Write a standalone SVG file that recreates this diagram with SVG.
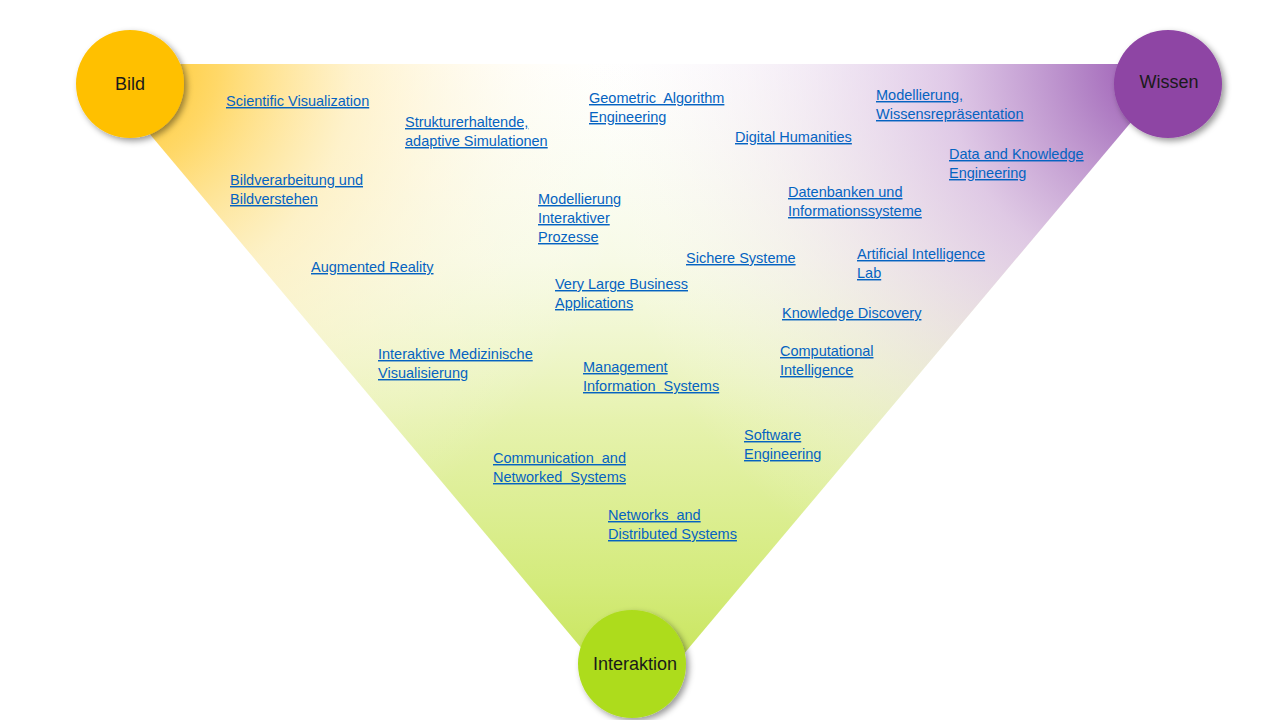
<svg xmlns="http://www.w3.org/2000/svg" width="1280" height="720" viewBox="0 0 1280 720">
  <defs>
    <linearGradient id="gGreen" gradientUnits="userSpaceOnUse" x1="0" y1="64" x2="0" y2="712">
      <stop offset="0" stop-color="#F4F8DC" stop-opacity="0"/>
      <stop offset="0.3" stop-color="#F2F7D6" stop-opacity="0.6"/>
      <stop offset="0.55" stop-color="#E6F2AE" stop-opacity="1"/>
      <stop offset="0.8" stop-color="#D4EB7C" stop-opacity="1"/>
      <stop offset="1" stop-color="#C2E24A" stop-opacity="1"/>
    </linearGradient>
    <radialGradient id="gOrange" gradientUnits="userSpaceOnUse" cx="110" cy="64" r="540">
      <stop offset="0" stop-color="#FFC21A" stop-opacity="1"/>
      <stop offset="0.2" stop-color="#FFD660" stop-opacity="0.95"/>
      <stop offset="0.45" stop-color="#FFEDB8" stop-opacity="0.7"/>
      <stop offset="0.75" stop-color="#FFF6DC" stop-opacity="0.25"/>
      <stop offset="1" stop-color="#FFFFFF" stop-opacity="0"/>
    </radialGradient>
    <radialGradient id="gPurple" gradientUnits="userSpaceOnUse" cx="1175" cy="64" r="600">
      <stop offset="0" stop-color="#944AAE" stop-opacity="1"/>
      <stop offset="0.16" stop-color="#B07FC4" stop-opacity="0.95"/>
      <stop offset="0.38" stop-color="#D8BCE2" stop-opacity="0.8"/>
      <stop offset="0.7" stop-color="#EEE2F0" stop-opacity="0.4"/>
      <stop offset="1" stop-color="#FFFFFF" stop-opacity="0"/>
    </radialGradient>
    <filter id="shadow" x="-30%" y="-30%" width="170%" height="170%">
      <feDropShadow dx="3" dy="3" stdDeviation="3" flood-color="#000" flood-opacity="0.4"/>
    </filter>
    <clipPath id="triClip">
      <polygon points="91,64 1180,64 635,712"/>
    </clipPath>
  </defs>
  <style>
    .lnk { font-family: "Liberation Sans", Arial, sans-serif; font-size: 14.5px; fill: #0563C1; text-decoration: underline; white-space: pre; }
    .lbl { font-family: "Liberation Sans", Arial, sans-serif; font-size: 18px; fill: #1A1A1A; text-anchor: middle; }
  </style>

  <g id="triangle">
    <polygon points="91,64 1180,64 635,712" fill="#FFFFFF"/>
    <g clip-path="url(#triClip)">
      <rect x="0" y="0" width="1280" height="720" fill="url(#gGreen)"/>
      <rect x="0" y="0" width="1280" height="720" fill="url(#gOrange)"/>
      <rect x="0" y="0" width="1280" height="720" fill="url(#gPurple)"/>
    </g>
  </g>

  <g id="connectors"></g>

  <g id="node-bild">
    <circle cx="130" cy="84" r="54" fill="#FFC000" filter="url(#shadow)"/>
    <text class="lbl" x="130" y="90">Bild</text>
  </g>
  <g id="node-wissen">
    <circle cx="1168" cy="84" r="54" fill="#8E44A4" filter="url(#shadow)"/>
    <text class="lbl" x="1169" y="88">Wissen</text>
  </g>
  <g id="node-interaktion">
    <circle cx="632" cy="664" r="54" fill="#ADDC1C" filter="url(#shadow)"/>
    <text class="lbl" x="635" y="670">Interaktion</text>
  </g>

  <g id="topics">
    <g id="t-scivis"><text class="lnk" x="226" y="106">Scientific Visualization</text></g>
    <g id="t-struktur"><text class="lnk" x="405" y="127">Strukturerhaltende,</text><text class="lnk" x="405" y="146">adaptive Simulationen</text></g>
    <g id="t-geo"><text class="lnk" x="589" y="103">Geometric  Algorithm</text><text class="lnk" x="589" y="122">Engineering</text></g>
    <g id="t-dh"><text class="lnk" x="735" y="142">Digital Humanities</text></g>
    <g id="t-modwiss"><text class="lnk" x="876" y="100">Modellierung,</text><text class="lnk" x="876" y="119">Wissensrepräsentation</text></g>
    <g id="t-dke"><text class="lnk" x="949" y="159">Data and Knowledge</text><text class="lnk" x="949" y="178">Engineering</text></g>
    <g id="t-bildv"><text class="lnk" x="230" y="185">Bildverarbeitung und</text><text class="lnk" x="230" y="204">Bildverstehen</text></g>
    <g id="t-modint"><text class="lnk" x="538" y="204">Modellierung</text><text class="lnk" x="538" y="223">Interaktiver</text><text class="lnk" x="538" y="242">Prozesse</text></g>
    <g id="t-db"><text class="lnk" x="788" y="197">Datenbanken und</text><text class="lnk" x="788" y="216">Informationssysteme</text></g>
    <g id="t-ar"><text class="lnk" x="311" y="272">Augmented Reality</text></g>
    <g id="t-sich"><text class="lnk" x="686" y="263">Sichere Systeme</text></g>
    <g id="t-ai"><text class="lnk" x="857" y="259">Artificial Intelligence</text><text class="lnk" x="857" y="278">Lab</text></g>
    <g id="t-vlba"><text class="lnk" x="555" y="289">Very Large Business</text><text class="lnk" x="555" y="308">Applications</text></g>
    <g id="t-kd"><text class="lnk" x="782" y="318">Knowledge Discovery</text></g>
    <g id="t-med"><text class="lnk" x="378" y="359">Interaktive Medizinische</text><text class="lnk" x="378" y="378">Visualisierung</text></g>
    <g id="t-mis"><text class="lnk" x="583" y="372">Management</text><text class="lnk" x="583" y="391">Information  Systems</text></g>
    <g id="t-ci"><text class="lnk" x="780" y="356">Computational</text><text class="lnk" x="780" y="375">Intelligence</text></g>
    <g id="t-se"><text class="lnk" x="744" y="440">Software</text><text class="lnk" x="744" y="459">Engineering</text></g>
    <g id="t-cns"><text class="lnk" x="493" y="463">Communication  and</text><text class="lnk" x="493" y="482">Networked  Systems</text></g>
    <g id="t-nds"><text class="lnk" x="608" y="520">Networks  and</text><text class="lnk" x="608" y="539">Distributed Systems</text></g>
  </g>
</svg>
